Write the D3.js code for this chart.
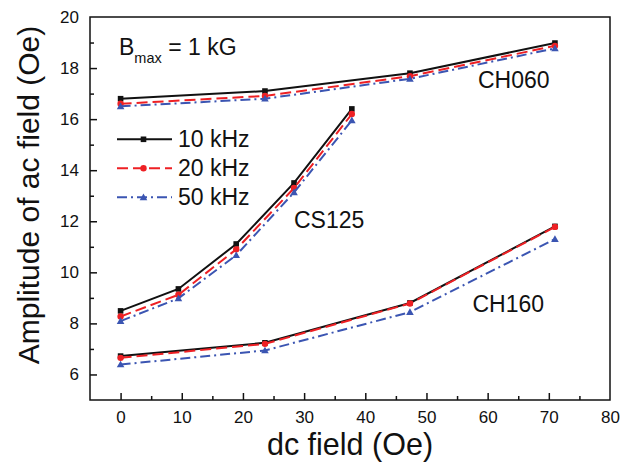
<!DOCTYPE html>
<html>
<head>
<meta charset="utf-8">
<script src="https://cdn.jsdelivr.net/npm/d3@7"></script>
<style>
  html, body { margin: 0; padding: 0; background: #fff; }
  svg { display: block; }
  text { font-family: Arial, "Liberation Sans", sans-serif; fill: #111; }
</style>
</head>
<body>
<svg id="chart" width="632" height="466"></svg>
<script>
// ---- data ----
const xCH = [0, 23.6, 47.3, 71.0];
const xCS = [0, 9.45, 18.9, 28.35, 37.8];

const ch060_10 = [16.80, 17.10, 17.80, 18.98];
const ch060_20 = [16.60, 16.91, 17.68, 18.87];
const ch060_50 = [16.50, 16.80, 17.58, 18.77];

const cs125_10 = [8.49, 9.35, 11.11, 13.50, 16.40];
const cs125_20 = [8.27, 9.12, 10.90, 13.30, 16.20];
const cs125_50 = [8.09, 8.98, 10.67, 13.13, 15.95];

const ch160_10 = [6.72, 7.24, 8.80, 11.80];
const ch160_20 = [6.65, 7.20, 8.78, 11.78];
const ch160_50 = [6.39, 6.94, 8.44, 11.30];

const freqLabels = ["10 kHz", "20 kHz", "50 kHz"];
const sampleLabels = ["CH060", "CS125", "CH160"];
const xTicks = [0, 10, 20, 30, 40, 50, 60, 70, 80];
const xMinor = [5, 15, 25, 35, 45, 55, 65, 75];
const yTicks = [6, 8, 10, 12, 14, 16, 18, 20];
const yMinor = [7, 9, 11, 13, 15, 17, 19];

// ---- styles ----
const styles = [
  { color: "#111111", dash: null, marker: "square" },
  { color: "#ee2024", dash: "11,5", marker: "circle" },
  { color: "#3b55b2", dash: "10,4,2,4", marker: "triangle" }
];

const svg = d3.select("#chart");
const x = d3.scaleLinear().domain([-5, 80]).range([90, 610]);
const y = d3.scaleLinear().domain([5, 20]).range([400, 17]);

// axes (ticks inward)
const gx = svg.append("g").attr("transform", "translate(0,400)")
  .call(d3.axisBottom(x).tickValues(xTicks).tickSize(-7).tickSizeOuter(0).tickPadding(11).tickFormat(d3.format("d")));
const gxm = svg.append("g").attr("transform", "translate(0,400)")
  .call(d3.axisBottom(x).tickValues(xMinor).tickSize(-4).tickSizeOuter(0).tickFormat(""));
const gy = svg.append("g").attr("transform", "translate(90,0)")
  .call(d3.axisLeft(y).tickValues(yTicks).tickSize(-7).tickSizeOuter(0).tickPadding(11).tickFormat(d3.format("d")));
const gym = svg.append("g").attr("transform", "translate(90,0)")
  .call(d3.axisLeft(y).tickValues(yMinor).tickSize(-4).tickSizeOuter(0).tickFormat(""));
[gx, gxm, gy, gym].forEach(g => {
  g.select(".domain").remove();
  g.selectAll(".tick line").attr("stroke", "#111").attr("stroke-width", 1.5);
  g.selectAll(".tick text").attr("font-size", 17).attr("fill", "#111")
    .attr("font-family", "Arial, 'Liberation Sans', sans-serif");
});
gx.selectAll(".tick").filter(d => d === 80).select("line").remove();
gy.selectAll(".tick").filter(d => d === 20).select("line").remove();

// frame
svg.append("rect").attr("x", x(-5)).attr("y", y(20))
  .attr("width", x(80) - x(-5)).attr("height", y(5) - y(20))
  .attr("fill", "none").attr("stroke", "#111").attr("stroke-width", 1.5);

// series
const groups = [
  { xs: xCH, series: [ch060_10, ch060_20, ch060_50] },
  { xs: xCS, series: [cs125_10, cs125_20, cs125_50] },
  { xs: xCH, series: [ch160_10, ch160_20, ch160_50] }
];

const line = d3.line().x(d => x(d[0])).y(d => y(d[1]));

function drawMarker(g, type, cx, cy, color) {
  if (type === "square") {
    g.append("rect").attr("x", cx - 2.8).attr("y", cy - 2.8).attr("width", 5.6).attr("height", 5.6).attr("fill", color);
  } else if (type === "circle") {
    g.append("circle").attr("cx", cx).attr("cy", cy).attr("r", 3.2).attr("fill", color);
  } else {
    const s = 3.8;
    g.append("path").attr("d", `M${cx},${cy - s}L${cx + s},${cy + s * 0.75}L${cx - s},${cy + s * 0.75}Z`).attr("fill", color);
  }
}

styles.forEach((st, si) => {
  const g = svg.append("g");
  groups.forEach(gr => {
    const pts = gr.xs.map((xv, i) => [xv, gr.series[si][i]]);
    g.append("path").attr("d", line(pts)).attr("fill", "none")
      .attr("stroke", st.color).attr("stroke-width", 2)
      .attr("stroke-dasharray", st.dash);
    pts.forEach(p => drawMarker(g, st.marker, x(p[0]), y(p[1]), st.color));
  });
});

// legend
const legY = [139.3, 168.3, 197.3];
styles.forEach((st, i) => {
  const g = svg.append("g");
  g.append("line").attr("x1", 117).attr("x2", 172).attr("y1", legY[i]).attr("y2", legY[i])
    .attr("stroke", st.color).attr("stroke-width", 2).attr("stroke-dasharray", st.dash);
  drawMarker(g, st.marker, 143.5, legY[i], st.color);
  g.append("text").attr("x", 178).attr("y", legY[i] + 8).attr("font-size", 23).text(freqLabels[i]);
});

// annotations
const bt = svg.append("text").attr("x", 119).attr("y", 55).attr("font-size", 23);
bt.append("tspan").text("B");
bt.append("tspan").attr("font-size", 14.5).attr("dy", 8).text("max");
bt.append("tspan").attr("dy", -8).text(" = 1 kG");

const labPos = [[478, 88.3], [294, 227.7], [472.5, 311.7]];
sampleLabels.forEach((s, i) => {
  svg.append("text").attr("x", labPos[i][0]).attr("y", labPos[i][1]).attr("font-size", 23).text(s);
});

// axis titles
svg.append("text").attr("x", 350).attr("y", 455).attr("text-anchor", "middle")
  .attr("font-size", 30.5).text("dc field (Oe)");
svg.append("text").attr("transform", "translate(39,195) rotate(-90)")
  .attr("text-anchor", "middle").attr("font-size", 30).text("Amplitude of ac field (Oe)");
</script>
</body>
</html>
